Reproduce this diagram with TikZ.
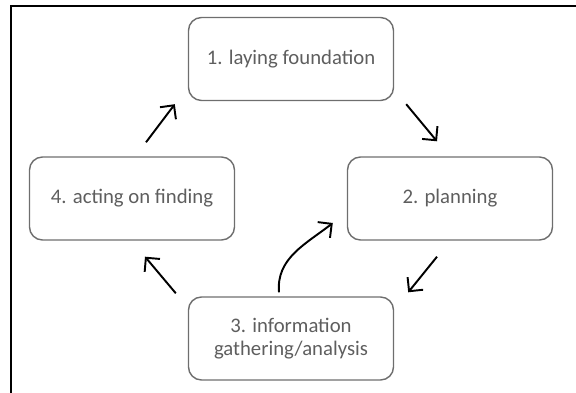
\documentclass[tikz,border=0pt]{standalone}
\usepackage{fontspec}
\setmainfont{Carlito}
\usetikzlibrary{arrows.meta}
\definecolor{boxgray}{HTML}{6E6E6E}
\definecolor{textgray}{HTML}{5E5E5E}

\begin{document}
\begin{tikzpicture}[
    stage/.style = {
      rectangle, rounded corners = 0.26cm, draw = boxgray, line width = 0.8pt,
      minimum width = 4.1cm, minimum height = 1.66cm, align = center,
      text = textgray, font = \fontsize{11.8}{13}\selectfont
    },
    flow/.style = {
      draw, line width = 1.1pt,
      -{Straight Barb[length = 0.2cm, width = 0.4cm]}
    }]
      \useasboundingbox (0,0) rectangle (11.52,7.86);
      \draw [line width = 1.1pt] (0.22,0) -- (0.22,7.74) -- (11.52,7.74);
      \node [stage] (found) at (5.82,6.68) {1. laying foundation};
      \node [stage] (plan) at (9.00,3.89) {2. planning};
      \node [stage] (gather) at (5.82,1.09) {3. information\\gathering/analysis};
      \node [stage] (act) at (2.64,3.89) {4. acting on finding};
      \draw [flow] ([shift = {(0.24,-0.06)}] found.south east)
        -- ([shift = {(-0.26,0.30)}] plan.north);
      \draw [flow] ([shift = {(-0.26,-0.32)}] plan.south)
        -- ([shift = {(0.28,0.08)}] gather.north east);
      \draw [flow] ([shift = {(-0.24,0.06)}] gather.north west)
        -- ([shift = {(0.26,-0.32)}] act.south);
      \draw [flow] ([shift = {(0.28,0.28)}] act.north)
        -- ([shift = {(-0.26,-0.06)}] found.south west);
      \draw [flow] ([shift = {(-0.24,0.08)}] gather.north)
        to [out = 95, in = 218] ([shift = {(-0.28,-0.49)}] plan.west);
    \end{tikzpicture}
\end{document}
